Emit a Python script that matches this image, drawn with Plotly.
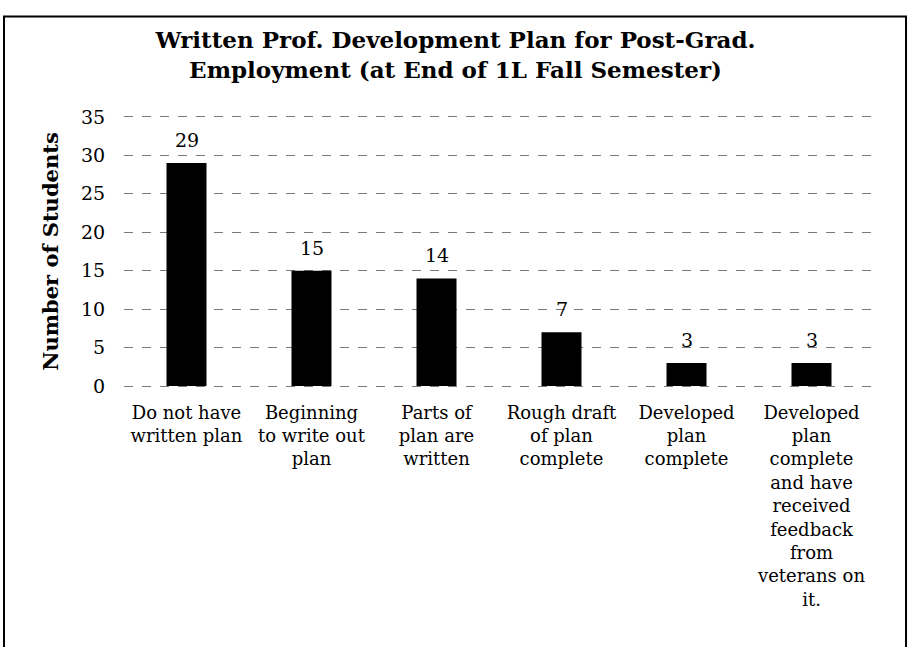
import plotly.graph_objects as go

# Data
categories = [
    "Do not have<br>written plan",
    "Beginning<br>to write out<br>plan",
    "Parts of<br>plan are<br>written",
    "Rough draft<br>of plan<br>complete",
    "Developed<br>plan<br>complete",
    "Developed<br>plan<br>complete<br>and have<br>received<br>feedback<br>from<br>veterans on<br>it.",
]
students = [29, 15, 14, 7, 3, 3]
y_ticks = [0, 5, 10, 15, 20, 25, 30, 35]

FONT = "DejaVu Serif"

fig = go.Figure()
fig.add_trace(go.Bar(
    x=categories,
    y=students,
    marker=dict(color="black", line=dict(width=0)),
    width=0.32,
    showlegend=False,
))

# value labels above the bars
for cat, val in zip(categories, students):
    fig.add_annotation(
        x=cat, y=val, text=str(val), showarrow=False,
        yanchor="bottom", yshift=10,
        font=dict(family=FONT, size=19, color="black"),
    )

# frame around the whole chart (runs past the bottom of the page)
fig.add_shape(
    type="rect", xref="paper", yref="paper",
    x0=-0.16, x1=1.0427, y0=-1.03, y1=1.3606,
    line=dict(color="black", width=2), fillcolor="rgba(0,0,0,0)",
)

fig.update_layout(
    width=911,
    height=647,
    margin=dict(l=124, r=37, t=115, b=259),
    paper_bgcolor="white",
    plot_bgcolor="white",
    font=dict(family=FONT, size=18, color="black"),
    title=dict(
        text="<b>Written Prof. Development Plan for Post-Grad.<br>Employment (at End of 1L Fall Semester)</b>",
        x=0.5, xanchor="center",
        y=1 - 48 / 647, yanchor="middle",
        font=dict(family=FONT, size=23, color="black"),
    ),
    xaxis=dict(
        showgrid=False,
        showline=False,
        ticks="outside", ticklen=8, tickcolor="rgba(0,0,0,0)",
        tickfont=dict(family=FONT, size=18),
        tickangle=0,
    ),
    yaxis=dict(
        range=[-0.25, 35.25],
        tickvals=y_ticks,
        showgrid=True,
        gridcolor="#7a7a7a",
        gridwidth=1,
        griddash="dash",
        zeroline=False,
        showline=False,
        ticks="outside", ticklen=14, tickcolor="rgba(0,0,0,0)",
        tickfont=dict(family=FONT, size=19),
        title=dict(text="<b>Number of Students</b>", standoff=16,
                   font=dict(family=FONT, size=21)),
    ),
)

fig.write_html(
    "out.html",
    config={"displayModeBar": False},
    post_script="document.body.style.margin='0px';",
)
